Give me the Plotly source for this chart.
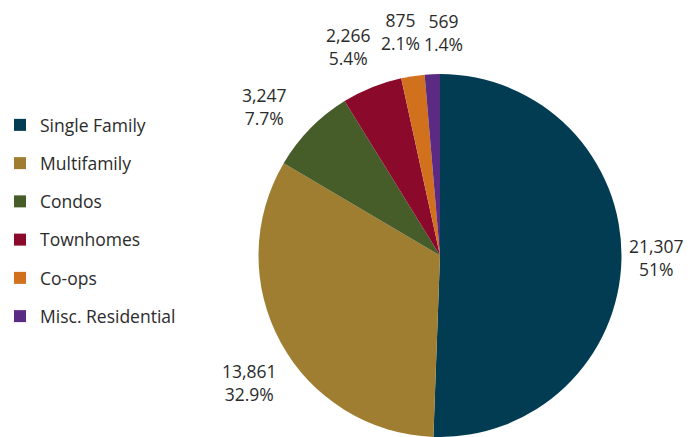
import math
import plotly.graph_objects as go

categories = ["Single Family", "Multifamily", "Condos", "Townhomes", "Co-ops", "Misc. Residential"]
values = [21307, 13861, 3247, 2266, 875, 569]
pct_labels = ["51%", "32.9%", "7.7%", "5.4%", "2.1%", "1.4%"]

colors = ["#023c53", "#9f7e31", "#465c29", "#8b0a2c", "#d2711d", "#5b2b84"]
FONT = "Open Sans"
FS = 17.5
TXT = "#2b2b2b"

W, H = 693, 437
cx, cy, R = 440, 256, 182  # pie centre / radius in px (layout only)

fig = go.Figure()
fig.add_trace(go.Pie(
    labels=categories, values=values, sort=False, direction="clockwise", rotation=0,
    marker=dict(colors=colors, line=dict(width=0)), textinfo="none", hoverinfo="label+value+percent",
    showlegend=False,
    domain=dict(x=[(cx - R) / W, (cx + R) / W], y=[0, min(1, (H - cy + R) / H)]),
))

for cat, col in zip(categories, colors):
    fig.add_trace(go.Scatter(x=[None], y=[None], mode="markers", name=cat, legendgroup=cat,
                             marker=dict(symbol="square", size=12, color=col), showlegend=True))

# label placement: radial distance + small nudges (px)
label_r = [217, 227, 227, 227, 227, 227]
nudges = [(0, -2), (9, 18), (-13, 9), (-6, 1), (-6, 0), (13, 3)]
total = sum(values)
cum = 0
for v, p, r, (nx, ny) in zip(values, pct_labels, label_r, nudges):
    mid = (cum + v / 2) / total * 2 * math.pi
    cum += v
    px = cx + r * math.sin(mid) + nx
    py = cy - r * math.cos(mid) + ny
    fig.add_annotation(x=px / W, y=1 - py / H, xref="paper", yref="paper",
                       text=f"{v:,}<br>{p}", showarrow=False, align="center",
                       xanchor="center", yanchor="middle",
                       font=dict(family=FONT, size=FS, color=TXT))

fig.update_layout(
    width=W, height=H, margin=dict(l=0, r=0, t=0, b=0, autoexpand=False),
    paper_bgcolor="white", plot_bgcolor="white",
    xaxis=dict(visible=False), yaxis=dict(visible=False),
    legend=dict(x=0, xanchor="left", y=1 - 107 / H, yanchor="top",
                font=dict(family=FONT, size=FS, color=TXT), tracegroupgap=12.5,
                bgcolor="rgba(0,0,0,0)"),
)
fig.write_html("out.html")
